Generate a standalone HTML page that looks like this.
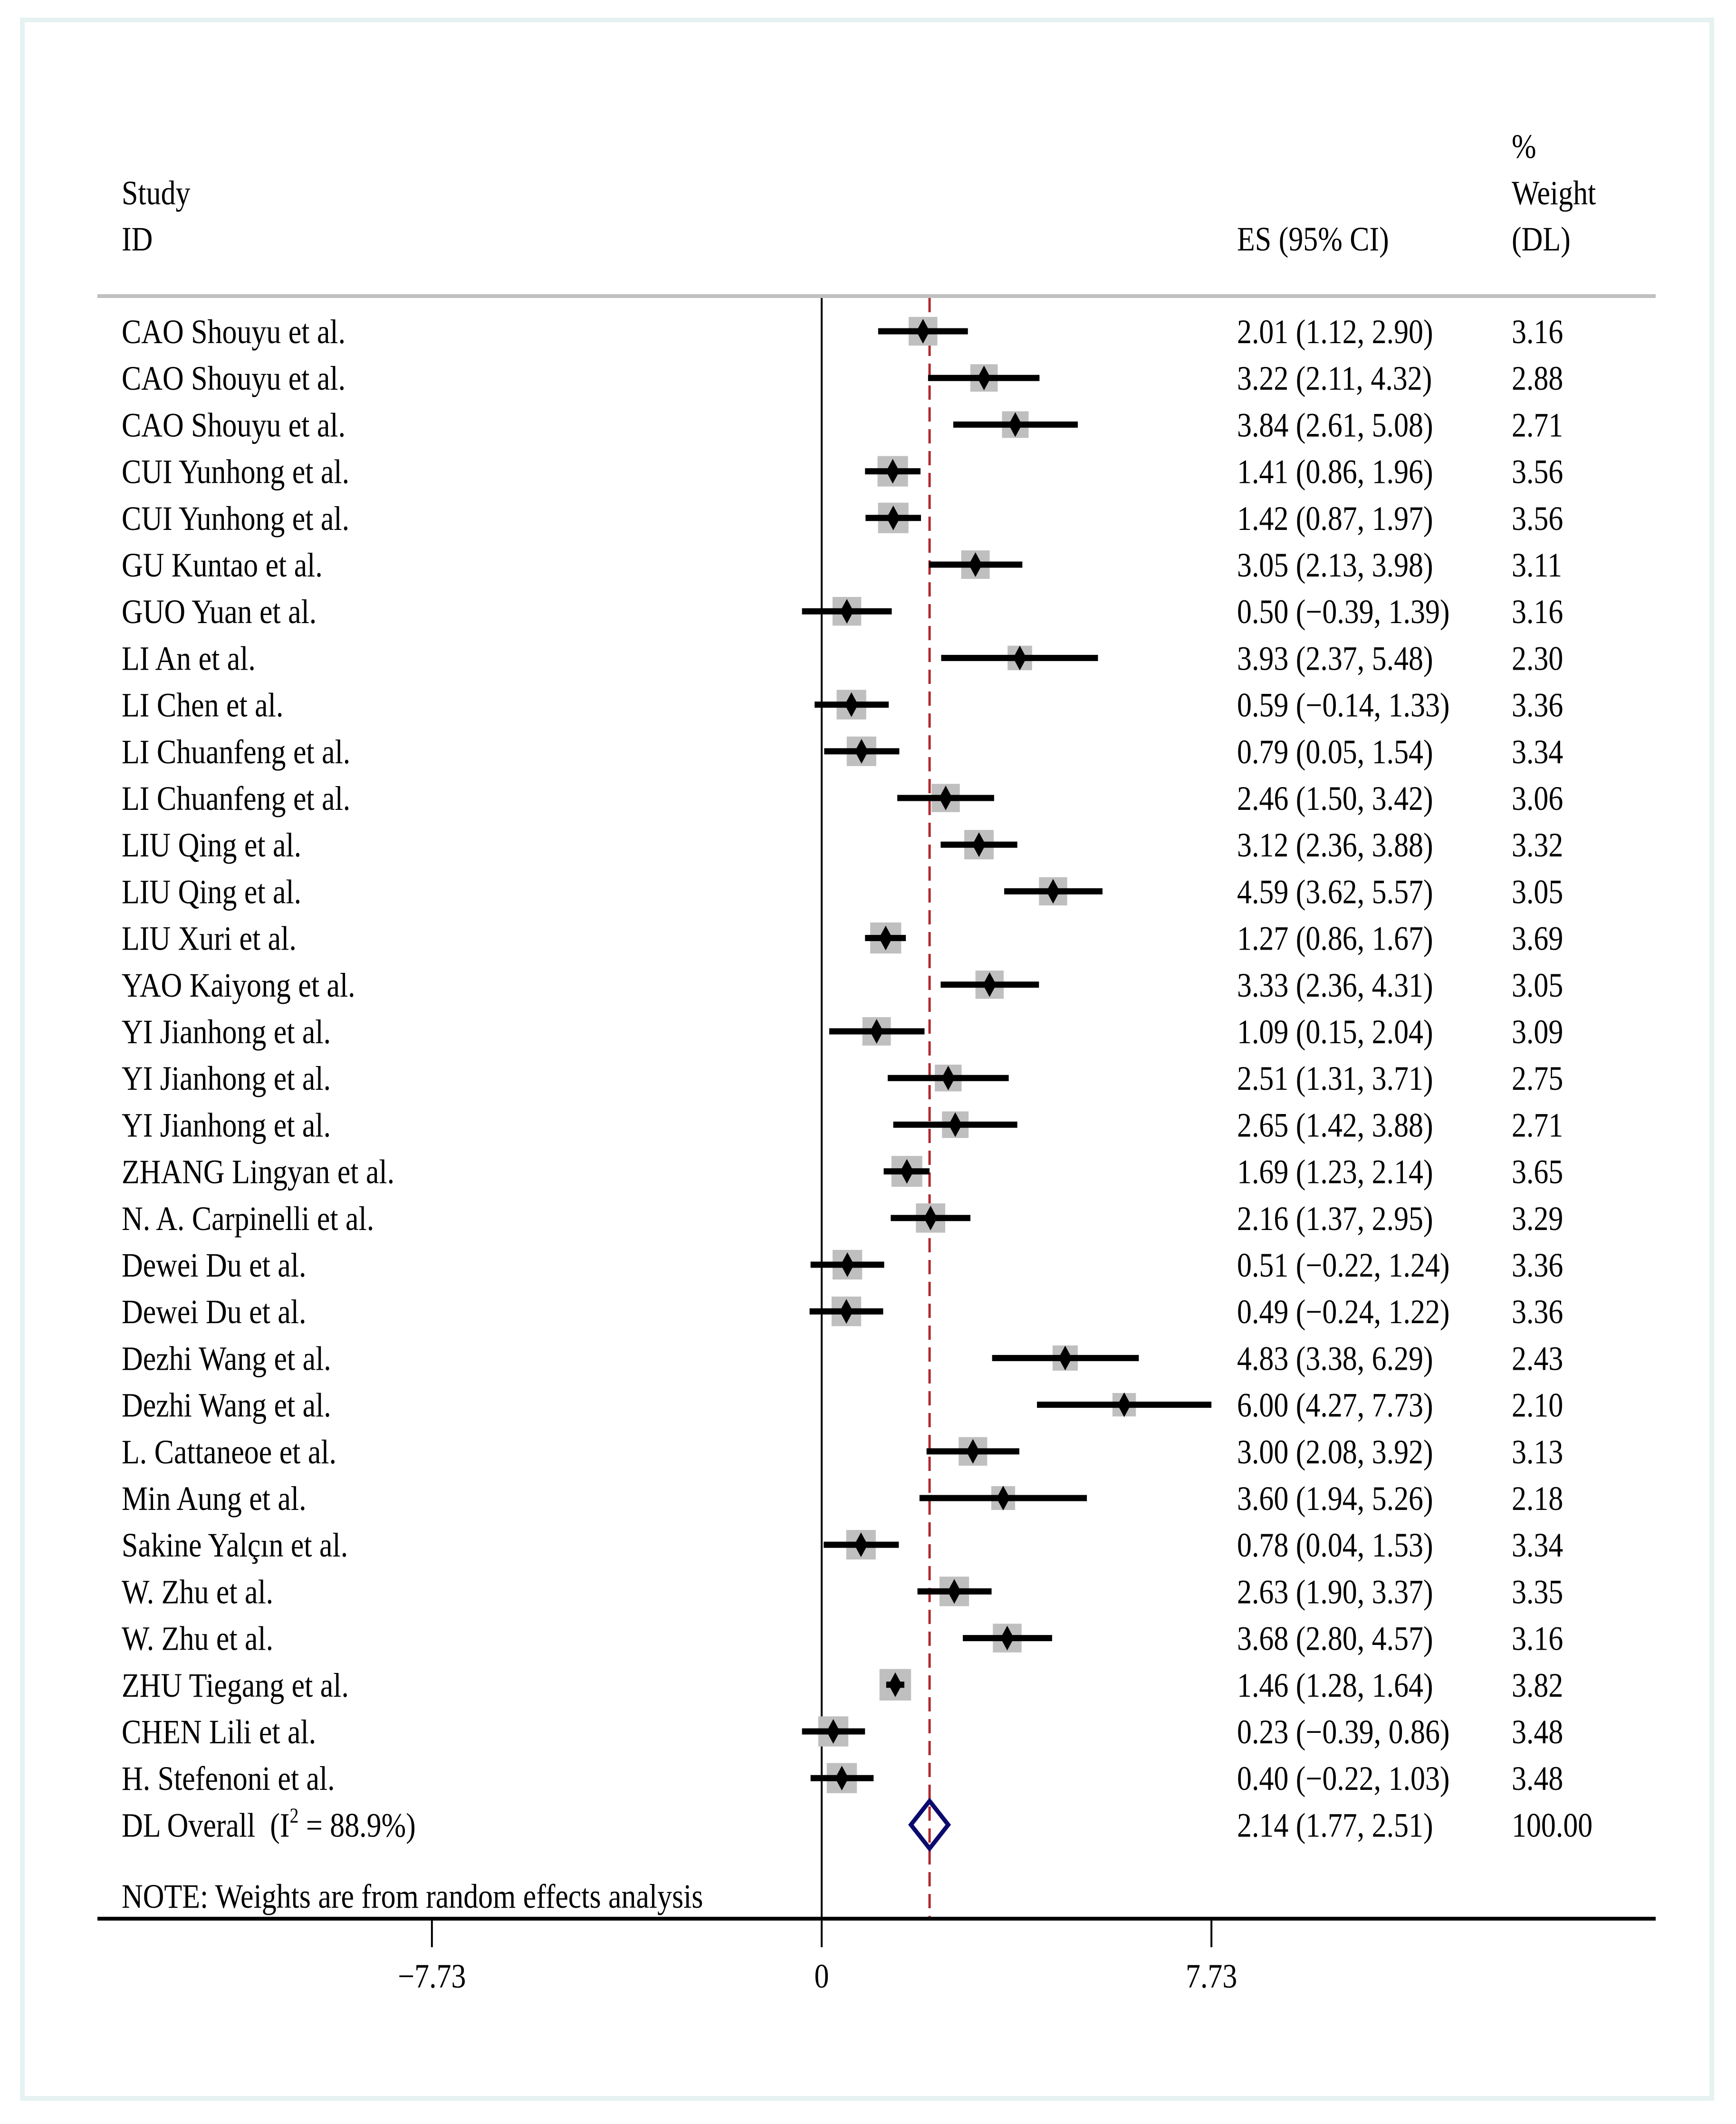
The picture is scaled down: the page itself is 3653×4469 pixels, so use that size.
<!DOCTYPE html>
<html><head><meta charset="utf-8"><style>
html,body{margin:0;padding:0;background:#fff;}
svg{display:block;}
text{font-family:"Liberation Serif",serif;font-size:72px;fill:#000;}
</style></head><body>
<svg id="chart" width="3653" height="4469" viewBox="0 0 3653 4469" xmlns="http://www.w3.org/2000/svg">
<rect x="47" y="42" width="3555" height="4373" fill="#fff" stroke="#e6f2f2" stroke-width="10"/>
<g id="g"></g>
</svg>
<script>
const studies=["CAO Shouyu et al.","CAO Shouyu et al.","CAO Shouyu et al.","CUI Yunhong et al.","CUI Yunhong et al.","GU Kuntao et al.","GUO Yuan et al.","LI An et al.","LI Chen et al.","LI Chuanfeng et al.","LI Chuanfeng et al.","LIU Qing et al.","LIU Qing et al.","LIU Xuri et al.","YAO Kaiyong et al.","YI Jianhong et al.","YI Jianhong et al.","YI Jianhong et al.","ZHANG Lingyan et al.","N. A. Carpinelli et al.","Dewei Du et al.","Dewei Du et al.","Dezhi Wang et al.","Dezhi Wang et al.","L. Cattaneoe et al.","Min Aung et al.","Sakine Yalçın et al.","W. Zhu et al.","W. Zhu et al.","ZHU Tiegang et al.","CHEN Lili et al.","H. Stefenoni et al."];
const es=[2.01,3.22,3.84,1.41,1.42,3.05,0.50,3.93,0.59,0.79,2.46,3.12,4.59,1.27,3.33,1.09,2.51,2.65,1.69,2.16,0.51,0.49,4.83,6.00,3.00,3.60,0.78,2.63,3.68,1.46,0.23,0.40];
const lo=[1.12,2.11,2.61,0.86,0.87,2.13,-0.39,2.37,-0.14,0.05,1.50,2.36,3.62,0.86,2.36,0.15,1.31,1.42,1.23,1.37,-0.22,-0.24,3.38,4.27,2.08,1.94,0.04,1.90,2.80,1.28,-0.39,-0.22];
const hi=[2.90,4.32,5.08,1.96,1.97,3.98,1.39,5.48,1.33,1.54,3.42,3.88,5.57,1.67,4.31,2.04,3.71,3.88,2.14,2.95,1.24,1.22,6.29,7.73,3.92,5.26,1.53,3.37,4.57,1.64,0.86,1.03];
const weights=[3.16,2.88,2.71,3.56,3.56,3.11,3.16,2.30,3.36,3.34,3.06,3.32,3.05,3.69,3.05,3.09,2.75,2.71,3.65,3.29,3.36,3.36,2.43,2.10,3.13,2.18,3.34,3.35,3.16,3.82,3.48,3.48];
const overall=[2.14,1.77,2.51];
const overallLabel="100.00";
const tickVals=[-7.73,0,7.73];
const tickLabels=["\u22127.73","0","7.73"];

const NS="http://www.w3.org/2000/svg";
const g=document.getElementById('g');
const x0=1729, ppu=106.1;
const X=v=>x0+v*ppu;
const rowY=i=>697+i*98.2;
const SX=0.86;
function el(t,a){const e=document.createElementNS(NS,t);for(const k in a)e.setAttribute(k,a[k]);g.appendChild(e);return e;}
function txt(s,x,y,name,anchor){const e=el('text',{transform:`translate(${x},${y}) scale(${SX},1)`});if(anchor)e.setAttribute('text-anchor',anchor);e.textContent=s;


return e;}
const f=v=>(v<0?"\u2212":"")+Math.abs(v).toFixed(2);

txt("Study",256,430,'study-header');
txt("ID",256,527,'id-header');
txt("ES (95% CI)",2603,527,'es-header');
txt("%",3181,332,'weight-header-pct');
txt("Weight",3181,430,'weight-header');
txt("(DL)",3181,527,'weight-header-dl');
let hl=el('rect',{x:205,y:619,width:3279,height:8,fill:'#c0c0c0'});



let zl=el('line',{x1:X(0),y1:627,x2:X(0),y2:4037,stroke:'#000','stroke-width':4});


let ol=el('line',{x1:X(overall[0]),y1:627,x2:X(overall[0]),y2:4033,stroke:'#b0282e','stroke-width':5,'stroke-dasharray':'30 16'});



studies.forEach((s,i)=>{
  const y=rowY(i);
  txt(s,256,y+25,'study-label');
  const side=34*Math.sqrt(weights[i]);
  const r=el('rect',{x:X(es[i])-side/2,y:y-side/2,width:side,height:side,fill:'#bfbfbf'});
  
  
  const l=el('line',{x1:X(lo[i]),y1:y,x2:X(hi[i]),y2:y,stroke:'#000','stroke-width':13});
  
  
  const cx=X(es[i]);
  const d=el('polygon',{points:`${cx},${y-26} ${cx+14},${y} ${cx},${y+26} ${cx-14},${y}`,fill:'#000'});
  
  
  txt(`${f(es[i])} (${f(lo[i])}, ${f(hi[i])})`,2603,y+25,'es-value');
  txt(weights[i].toFixed(2),3181,y+25,'weight-value');
});

const oy=rowY(studies.length);
const ot=txt("DL Overall  (I",256,oy+25,'overall-label');
ot.setAttribute('xml:space','preserve');
ot.style.whiteSpace='pre';
const sup=document.createElementNS(NS,'tspan');sup.setAttribute('dy','-30');sup.setAttribute('font-size','44');sup.textContent='2';ot.appendChild(sup);
const rest=document.createElementNS(NS,'tspan');rest.setAttribute('dy','30');rest.textContent=' = 88.9%)';ot.appendChild(rest);
const od=el('polygon',{points:`${X(overall[1])},${oy} ${X(overall[0])},${oy-50} ${X(overall[2])},${oy} ${X(overall[0])},${oy+50}`,fill:'none',stroke:'#0a0a6e','stroke-width':9});


txt(`${f(overall[0])} (${f(overall[1])}, ${f(overall[2])})`,2603,oy+25,'overall-es-value');
txt(overallLabel,3181,oy+25,'overall-weight-value');

txt("NOTE: Weights are from random effects analysis",256,4014,'note');

let ax=el('rect',{x:205,y:4033,width:3279,height:8,fill:'#000'});


tickVals.forEach((v,i)=>{
  const t=el('line',{x1:X(v),y1:4037,x2:X(v),y2:4097,stroke:'#000','stroke-width':4});
  
  
  txt(tickLabels[i],X(v),4182,'x-tick-label','middle');
});
</script>
</body></html>
